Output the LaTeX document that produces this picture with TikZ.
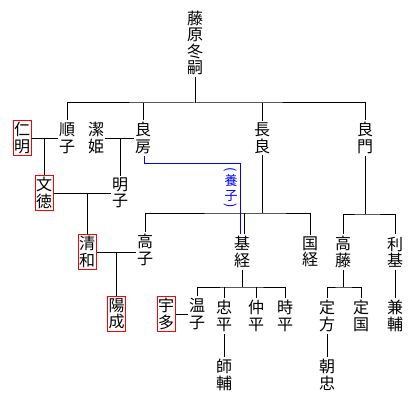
\documentclass[tikz,border=0pt]{standalone}
\usepackage{fontspec}
\newfontfamily\cjk{Noto Sans CJK JP}
\tikzset{
  nm/.style={font=\cjk\fontsize{16}{16.5}\selectfont, align=center, inner xsep=0.5pt, inner ysep=2pt},
  emp/.style={nm, draw=red, line width=1pt, inner xsep=1pt, inner ysep=2pt},
  ln/.style={line width=1pt, draw=black},
  adopt/.style={line width=1pt, draw=blue},
  adoptlabel/.style={font=\cjk\fontsize{13}{15}\selectfont, text=blue, align=center, inner sep=0pt},
  adoptparen/.style={font=\cjk\fontsize{13}{13}\selectfont, text=blue, inner sep=0pt, rotate=-90},
}
\begin{document}
\begin{tikzpicture}[x=1pt,y=-1pt]
\useasboundingbox (0,0) rectangle (420,409);
% generation 1
\node[nm] (fuyutsugu) at (195,43) {藤\\原\\冬\\嗣};
% generation 2
\node[emp] (ninmyo) at (22,138) {仁\\明};
\node[nm] (junshi) at (67,138) {順\\子};
\node[nm] (kiyohime) at (96,138) {潔\\姫};
\node[nm] (yoshifusa) at (143,138) {良\\房};
\node[nm] (nagayoshi) at (262,138) {長\\良};
\node[nm] (yoshikado) at (365,138) {良\\門};
% generation 3
\node[emp] (montoku) at (44,193) {文\\徳};
\node[nm] (akirakeiko) at (120,193) {明\\子};
% generation 4
\node[emp] (seiwa) at (87,252) {清\\和};
\node[nm] (takaiko) at (145,250) {高\\子};
\node[nm] (mototsune) at (242,252) {基\\経};
\node[nm] (kunitsune) at (310,252) {国\\経};
\node[nm] (takafuji) at (343,252) {高\\藤};
\node[nm] (toshimoto) at (395,252) {利\\基};
% generation 5
\node[emp] (yozei) at (116.5,314) {陽\\成};
\node[emp] (uda) at (166,314) {宇\\多};
\node[nm] (onshi) at (197,314) {温\\子};
\node[nm] (tadahira) at (224,316) {忠\\平};
\node[nm] (nakahira) at (256,316) {仲\\平};
\node[nm] (tokihira) at (285,316) {時\\平};
\node[nm] (sadakata) at (327,316) {定\\方};
\node[nm] (sadakuni) at (361,316) {定\\国};
\node[nm] (kanesuke) at (395,316) {兼\\輔};
% generation 6
\node[nm] (morosuke) at (224,375) {師\\輔};
\node[nm] (asatada) at (327,375) {朝\\忠};
% adoption label
\node[adoptparen] (yoshiopen) at (231,170) {(};
\node[adoptlabel] (yoshi) at (231,188) {養\\子};
\node[adoptparen] (yoshiclose) at (231,205.5) {)};

% junction coordinates
\coordinate (fb) at (195,103);
\coordinate (nb) at (262,213);
\coordinate (kb) at (365,214);
\coordinate (mb) at (242,287);
\coordinate (tb) at (343,287);
\coordinate (ab) at (240,163);

% connectors
\draw[ln] (fuyutsugu.south) -- (fb);
\draw[ln] (junshi.north) |- (fb) -| (yoshikado.north);
\draw[ln] (yoshifusa.north) -- (yoshifusa.north |- fb);
\draw[ln] (nagayoshi.north) -- (nagayoshi.north |- fb);

\draw[ln] (ninmyo.east) -- (junshi.west);
\draw[ln] (montoku.north) -- (montoku.north |- ninmyo.east);
\draw[ln] (kiyohime.east) -- (yoshifusa.west);
\draw[ln] (akirakeiko.north) -- (akirakeiko.north |- kiyohime.east);

\draw[ln] (montoku.east) -- (montoku.east -| akirakeiko.west);
\draw[ln] (seiwa.north) -- (seiwa.north |- montoku.east);

\draw[ln] (seiwa.east) -- (seiwa.east -| takaiko.west);
\draw[ln] (yozei.north) -- (yozei.north |- seiwa.east);

\draw[ln] (nagayoshi.south) -- (nb);
\draw[ln] (takaiko.north) |- (nb) -| (kunitsune.north);
\draw[ln] ([xshift=2pt]mototsune.north) -- ([xshift=2pt]mototsune.north |- nb);

\draw[adopt] ([xshift=1pt]yoshifusa.south) |- (ab) -- ([xshift=-2pt]mototsune.north);

\draw[ln] (yoshikado.south) -- (kb);
\draw[ln] (takafuji.north) |- (kb) -| (toshimoto.north);

\draw[ln] (mototsune.south) -- (mb);
\draw[ln] (onshi.north) |- (mb) -| (tokihira.north);
\draw[ln] (tadahira.north) -- (tadahira.north |- mb);
\draw[ln] (nakahira.north) -- (nakahira.north |- mb);

\draw[ln] (takafuji.south) -- (tb);
\draw[ln] (sadakata.north) |- (tb) -| (sadakuni.north);

\draw[ln] (uda.east) -- (onshi.west);
\draw[ln] (tadahira.south) -- (morosuke.north);
\draw[ln] (sadakata.south) -- (asatada.north);
\draw[ln] (toshimoto.south) -- (kanesuke.north);
\end{tikzpicture}
\end{document}
